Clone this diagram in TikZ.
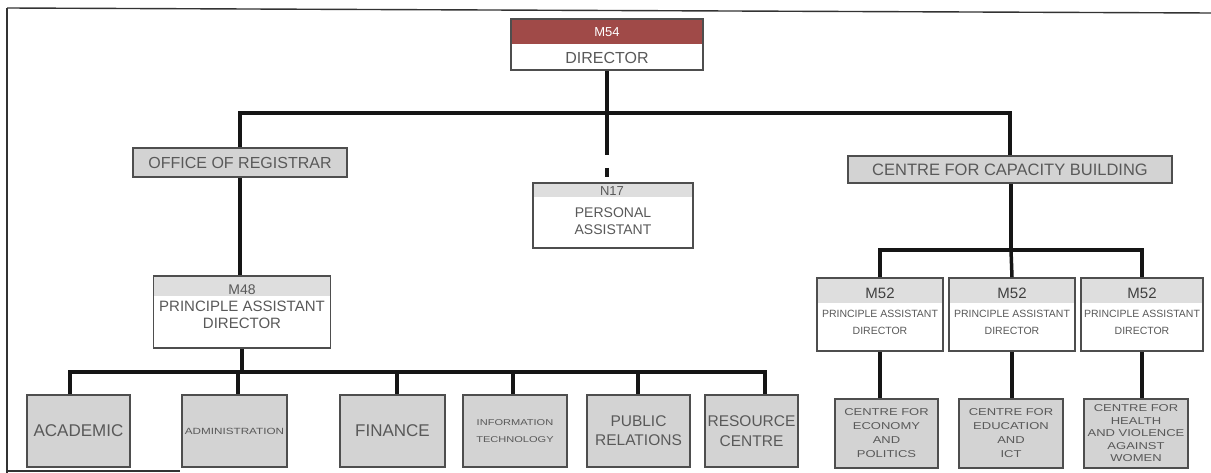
\documentclass[tikz,border=0pt]{standalone}
\usepackage{fontspec}
\setmainfont{Liberation Sans}
\definecolor{ink}{HTML}{595959}
\definecolor{darkink}{HTML}{404040}
\definecolor{edge}{HTML}{4E4E4E}
\definecolor{boxgray}{HTML}{D3D3D3}
\definecolor{stripgray}{HTML}{DEDEDE}
\definecolor{dirred}{HTML}{A04A48}
\definecolor{wire}{HTML}{151515}
\newcommand{\fs}[2]{\fontsize{#1}{#2}\selectfont}
% horizontally stretched lettering
\newcommand{\wide}[1]{\scalebox{1.3}[1]{#1}}
\begin{document}
\begin{tikzpicture}[x=1pt,y=-1pt,
  box/.style={draw=edge, line width=1.6pt, fill=white, inner sep=0pt, text=ink},
  graybox/.style={box, fill=boxgray},
  strip/.style 2 args={path picture={\fill[#2] (path picture bounding box.north west)
      rectangle ([yshift=-#1]path picture bounding box.north east);}},
  lbl/.style={inner sep=0pt, text=ink, align=center},
  conn/.style={draw=wire, line width=3.5pt},
  frame/.style={draw=black!80, line width=1.4pt}]
\useasboundingbox (0,0) rectangle (1211,473);

% page frame
\draw[frame] (7,8) -- (1211,13);
\draw[frame] (7,8) -- (7,473);
\draw[frame] (7,471) -- (180,471);

% ---------- top level ----------
\node[box, strip={25pt}{dirred}, minimum width=192pt, minimum height=51pt] (dir) at (607,44.5) {};
\node[lbl, text=white, font=\fs{13}{15}] (dirgrade) at (607,32) {M54};
\node[lbl, font=\fs{16}{18}] (dirtitle) at (607,57.5) {DIRECTOR};

% ---------- second level ----------
\node[graybox, minimum width=214pt, minimum height=29pt, font=\fs{16}{18}] (oor) at (240,162.5) {OFFICE OF REGISTRAR};
\node[graybox, minimum width=324pt, minimum height=27pt, font=\fs{16.5}{18}] (ccb) at (1010,169.5) {CENTRE FOR CAPACITY BUILDING};

\node[box, strip={14pt}{stripgray}, minimum width=160pt, minimum height=65pt] (pa) at (613,215.5) {};
\node[lbl, font=\fs{13}{15}] (pagrade) at (612,191) {N17};
\node[lbl, font=\fs{14}{17}] (patitle) at (613,221) {PERSONAL\\ASSISTANT};

% ---------- registrar branch ----------
\node[box, strip={20pt}{stripgray}, minimum width=177pt, minimum height=72pt] (m48) at (242,312) {};
\node[lbl, font=\fs{14}{16}] (m48grade) at (242,290) {M48};
\node[lbl, font=\fs{15}{17}] (m48title) at (242,315) {PRINCIPLE ASSISTANT\\DIRECTOR};

\node[graybox, minimum width=103pt, minimum height=72pt, font=\fs{17}{18}] (acad) at (78.5,431) {ACADEMIC};
\node[graybox, minimum width=105pt, minimum height=72pt, font=\fs{9}{11}] (admin) at (234.5,431) {\wide{ADMINISTRATION}};
\node[graybox, minimum width=105pt, minimum height=72pt, font=\fs{17}{18}] (fin) at (392.5,431) {FINANCE};
\node[graybox, minimum width=104pt, minimum height=72pt, font=\fs{8.5}{17}, align=center] (it) at (515,431) {\wide{INFORMATION}\\\wide{TECHNOLOGY}};
\node[graybox, minimum width=103pt, minimum height=72pt, font=\fs{15.5}{19}, align=center] (pr) at (638.5,431) {PUBLIC\\RELATIONS};
\node[graybox, minimum width=93pt, minimum height=72pt, font=\fs{15.5}{20}, align=center] (rc) at (751.5,431) {RESOURCE\\CENTRE};

% ---------- capacity building branch ----------
\foreach \nm/\cx/\w in {m52a/880/126, m52b/1012/126, m52c/1142/122}{
  \node[box, strip={25pt}{stripgray}, minimum width=\w pt, minimum height=73pt] (\nm) at (\cx,314.5) {};
  \node[lbl, text=darkink, font=\fs{15}{17}] (\nm grade) at (\cx,293) {M52};
  \node[lbl, font=\fs{10.5}{17}] (\nm title) at (\cx,322) {PRINCIPLE ASSISTANT\\DIRECTOR};
}

\node[graybox, minimum width=103pt, minimum height=69pt, font=\fs{10}{14}, align=center] (eco) at (886.5,433.5)
  {\wide{CENTRE FOR}\\\wide{ECONOMY}\\\wide{AND}\\\wide{POLITICS}};
\node[graybox, minimum width=104pt, minimum height=69pt, font=\fs{10}{14}, align=center] (edu) at (1011,433.5)
  {\wide{CENTRE FOR}\\\wide{EDUCATION}\\\wide{AND}\\\wide{ICT}};
\node[graybox, minimum width=104pt, minimum height=69pt, font=\fs{10}{12.5}, align=center] (hlth) at (1136,433.5)
  {\wide{CENTRE FOR}\\\wide{HEALTH}\\\wide{AND VIOLENCE}\\\wide{AGAINST}\\\wide{WOMEN}};

% ---------- connectors ----------
\coordinate (topbus) at (607,113);
\draw[conn] (dir.south) -- (topbus);
\draw[conn] (oor.north) |- (topbus) -| (ccb.north);
\draw[conn, dash pattern=on 42pt off 13pt on 9pt off 20pt] (topbus) -- (topbus |- pa.north);
\draw[conn] (oor.south) -- (oor.south |- m48.north);

% registrar sections bus
\coordinate (dA) at (70,372);
\coordinate (dB) at (238,372);
\coordinate (dC) at (397,372);
\coordinate (dD) at (513,372);
\coordinate (dE) at (638,372);
\coordinate (dF) at (765,372);
\draw[conn] (m48.south) -- (m48.south |- dA);
\draw[conn] (dA |- acad.north) -- (dA) -- (dF) -- (dF |- rc.north);
\draw[conn] (dB) -- (dB |- admin.north);
\draw[conn] (dC) -- (dC |- fin.north);
\draw[conn] (dD) -- (dD |- it.north);
\draw[conn] (dE) -- (dE |- pr.north);

% capacity building bus
\coordinate (cbus) at (1011,250);
\draw[conn] (ccb.south -| cbus) -- (cbus);
\draw[conn] (m52a.north) |- (cbus) -| (m52c.north);
\draw[conn] (cbus) -- (m52b.north);
\draw[conn] (m52a.south) -- (m52a.south |- eco.north);
\draw[conn] (m52b.south) -- (m52b.south |- edu.north);
\draw[conn] (m52c.south) -- (m52c.south |- hlth.north);
\end{tikzpicture}
\end{document}
